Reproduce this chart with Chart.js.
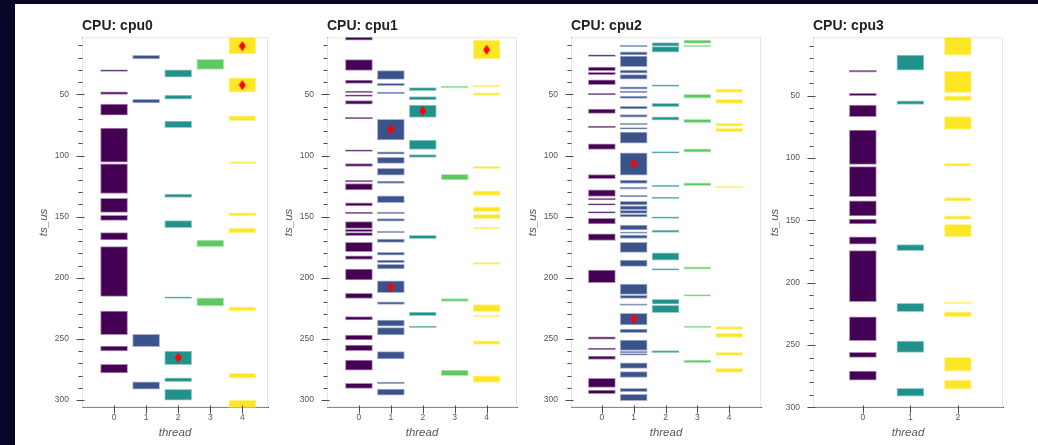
<!DOCTYPE html>
<html>
<head>
<meta charset="utf-8">
<script src="https://cdn.jsdelivr.net/npm/chart.js@4.4.1/dist/chart.umd.min.js"></script>
<style>
  html, body { margin: 0; padding: 0; background: #07072a; }
  #wrap { position: relative; width: 1038px; height: 445px; overflow: hidden; }
  #panel { position: absolute; left: 15px; top: 4px; width: 1023px; height: 441px; background: #fff; }
  canvas { position: absolute; left: 0; top: 0; }
</style>
</head>
<body>
<div id="wrap">
  <div id="panel"></div>
  <canvas id="c0" width="1038" height="445"></canvas>
  <canvas id="c1" width="1038" height="445"></canvas>
  <canvas id="c2" width="1038" height="445"></canvas>
  <canvas id="c3" width="1038" height="445"></canvas>
</div>
<script>
// titles and ticks
const cpuTitles = ['CPU: cpu0', 'CPU: cpu1', 'CPU: cpu2', 'CPU: cpu3'];
const yTickValues = [50, 100, 150, 200, 250, 300];
const cpu0Threads = [0, 1, 2, 3, 4];
const cpu1Threads = [0, 1, 2, 3, 4];
const cpu2Threads = [0, 1, 2, 3, 4];
const cpu3Threads = [0, 1, 2];

// busy spans per thread, [start, end] in ts_us
const cpu0Spans = [
  [[30, 31.2], [48, 50], [58, 67], [77.5, 105.5], [106.8, 131], [135, 146.5], [149, 153], [163, 169], [174.5, 215.2], [227.2, 246.6], [255.8, 259.8], [270.8, 277.8]],
  [[18, 21], [54, 57], [246.3, 256.3], [285, 291]],
  [[30, 36], [50.5, 54], [71.8, 77.3], [131.5, 134.3], [153.3, 159], [215.6, 216.8], [260, 271], [281.8, 285], [291.3, 300]],
  [[21.4, 29.6], [169.2, 174.6], [216.4, 223]],
  [[0, 17], [36.4, 48.1], [67.6, 71.6], [104.9, 106.6], [146.9, 149.4], [159.3, 163.3], [223.7, 227], [278.1, 282], [300, 310]]
];
const cpu1Spans = [
  [[2, 5.6], [21.5, 30.4], [38.3, 41], [47.2, 48.5], [50.4, 51.7], [55, 58], [68.8, 70.1], [95.3, 96.6], [106.5, 109], [120.3, 121.6], [122.9, 128.2], [138.6, 141.3], [146.3, 147.6], [154.1, 159.6], [160.4, 162.3], [163.1, 165.6], [171, 178.7], [182, 184.9], [192.8, 201.8], [212.7, 216.8], [231.8, 234.5], [246.8, 250.9], [255, 259.7], [267.3, 275.5], [286.3, 290.4]],
  [[30.6, 37.7], [41, 42.9], [48.1, 49.4], [70.4, 87.3], [96.9, 99], [101.5, 106.4], [110.5, 116], [120.9, 122.8], [132.9, 138.6], [146.3, 147.6], [151.6, 153.6], [161.9, 163.2], [168.3, 171], [179.2, 181.4], [185.5, 187.7], [189, 192.8], [202.4, 212.2], [219.6, 221.7], [234.5, 239.5], [240.8, 246.8], [260.4, 266.4], [285.3, 286.6], [291, 295.9]],
  [[44.5, 47], [51.9, 54.6], [58.7, 68.8], [87.3, 95], [99.3, 101.5], [165.3, 168], [228, 231], [239.4, 240.7]],
  [[43.3, 44.5], [115.4, 120], [217, 219.4], [275.4, 280]],
  [[5.6, 21.1], [42.4, 43.7], [48.7, 50.8], [108.8, 110.8], [128.8, 132.6], [141.9, 146], [148.1, 151.7], [158.7, 160], [187.4, 189], [222, 227.8], [230.8, 232.1], [251.5, 254.5], [280.1, 285.5]]
];
const cpu2Spans = [
  [[17.6, 18.9], [27.7, 30.6], [32, 33.8], [38, 42], [49.2, 50.5], [62, 65.5], [75.9, 77.2], [90.5, 95], [115.5, 119], [128, 133.5], [134.8, 136.4], [139.3, 140.6], [145.8, 147.1], [151.4, 156], [164, 169.5], [193.7, 204], [248.2, 250.3], [257.5, 258.8], [264, 266.8], [282.2, 289.6], [291.8, 294.8]],
  [[9.8, 11.1], [15.1, 17.8], [18.6, 27.4], [30.1, 32.6], [33.8, 37.5], [43.9, 45.8], [47.2, 48.7], [51.3, 53.4], [59.8, 61.9], [66.6, 68.6], [73.6, 74.9], [77.1, 78.4], [80.8, 90], [97.9, 116], [120, 122.8], [125.8, 127.6], [132.6, 133.9], [137.4, 140.5], [141.2, 144.2], [144.8, 147.3], [148, 150.2], [156.9, 160.9], [162.5, 163.8], [165, 167.9], [171, 179.2], [185.5, 190.6], [205.1, 213.6], [214.4, 216.8], [221.2, 222.5], [229.1, 238.6], [241.9, 244.9], [250.9, 259.5], [260, 261.5], [262, 263.3], [269.5, 274.1], [276.8, 281.4], [290.4, 293.2], [295.3, 300.5]],
  [[7.7, 10.5], [11, 15.4], [42.2, 43.5], [57.4, 60.1], [68.3, 71], [96.8, 98.1], [124.1, 125.6], [133.9, 135.2], [150.1, 151.4], [160.9, 162.8], [179.5, 185.5], [192.4, 193.8], [217.6, 221.5], [222.5, 228.6], [259.6, 261.3]],
  [[5.6, 8.3], [9.8, 11], [50, 53.2], [70.4, 73.2], [94.5, 97.2], [122.3, 124.7], [191, 192.9], [213.7, 215], [239.4, 240.7], [267.3, 269.5]],
  [[45.6, 48.3], [54.1, 57.4], [73.7, 75.9], [77.8, 80.8], [125.3, 126.6], [240, 242.2], [245.4, 248.7], [261, 263.4], [274, 277.3]]
];
const cpu3Spans = [
  [[29.6, 31], [48.1, 50], [57.5, 66.8], [77.5, 105.1], [106.9, 131], [134.2, 146.5], [148.9, 152.9], [163.1, 169], [174.3, 215.2], [227.3, 246.5], [255.9, 259.9], [270.9, 278.1]],
  [[17.4, 29.4], [54, 57], [169.3, 174.3], [216.6, 223.3], [246.8, 255.9], [284.8, 290.9]],
  [[0, 17.4], [30.2, 47.6], [50, 54], [66.8, 77], [104.3, 106.4], [131.6, 134.5], [146.3, 149.2], [153.2, 163.1], [215.5, 216.8], [223.3, 227.3], [259.9, 270.9], [278.1, 285.3]]
];

// red markers [thread, ts_us]
const cpu0Marks = [[4, 10.5], [4, 42.4], [2, 265.3]];
const cpu1Marks = [[4, 13.5], [2, 63.6], [1, 78.6], [1, 207.8]];
const cpu2Marks = [[1, 106.6], [1, 233.7]];
const cpu3Marks = [];

// layout / style
const palette5 = ['#440154', '#3b528b', '#21918c', '#5ec962', '#fde725'];
const palette3 = ['#440154', '#21918c', '#fde725'];
const frames = [[82, 268], [327, 517], [571, 761], [813, 1003]];
const xRanges = [[-1, 4.8], [-1, 4.95], [-0.97, 5.0], [-1.05, 2.95]];
const yRanges = [[3.4, 306], [3.4, 306], [3.4, 306], [3.2, 300]];
const frameTop = 37.4, frameBottom = 407.4;
const yAxisW = 45.6, xAxisH = 32;

function fade(hex, a) {
  const n = parseInt(hex.slice(1), 16);
  return `rgba(${n >> 16},${(n >> 8) & 255},${n & 255},${a})`;
}

// diamond marker
const diamond = document.createElement('canvas');
diamond.width = 8; diamond.height = 11;
(function () {
  const g = diamond.getContext('2d');
  g.fillStyle = '#f00';
  g.beginPath();
  g.moveTo(4, 0.5); g.lineTo(7.5, 5.5); g.lineTo(4, 10.5); g.lineTo(0.5, 5.5);
  g.closePath(); g.fill();
})();

const axisDeco = {
  id: 'axisDeco',
  beforeDatasetsDraw(chart) {
    const { ctx, chartArea: a } = chart;
    ctx.save();
    ctx.strokeStyle = '#e6e6e6';
    ctx.lineWidth = 1;
    ctx.strokeRect(a.left + 0.5, a.top + 0.5, a.right - a.left - 1, a.bottom - a.top - 1);
    ctx.restore();
  },
  afterDraw(chart) {
    const { ctx, chartArea: a, scales } = chart;
    const ys = scales.y, xs = scales.x;
    ctx.save();
    ctx.strokeStyle = '#4d4d4d';
    ctx.lineWidth = 1;
    ctx.beginPath();
    const ax = Math.round(a.left) + 0.5;
    for (let v = Math.ceil(ys.min / 10) * 10; v <= ys.max; v += 10) {
      const py = Math.round(ys.getPixelForValue(v)) + 0.5;
      if (v % 50 === 0) { ctx.moveTo(ax - 6, py); ctx.lineTo(ax + 2, py); }
      else { ctx.moveTo(ax - 4, py); ctx.lineTo(ax, py); }
    }
    const by = Math.round(a.bottom) + 0.5;
    xs.ticks.forEach(t => {
      const px = Math.round(xs.getPixelForValue(t.value)) + 0.5;
      ctx.moveTo(px, by - 2); ctx.lineTo(px, by + 6);
    });
    ctx.stroke();
    ctx.fillStyle = '#222';
    ctx.font = 'bold 14px "Liberation Sans", Arial, sans-serif';
    ctx.textBaseline = 'alphabetic';
    ctx.fillText(chart.options.plugins.cpuTitle, a.left, 30);
    ctx.restore();
  }
};

function makeChart(i, spans, threads, marks, palette) {
  const datasets = [{
    type: 'scatter',
    data: marks.map(m => ({ x: m[0], y: m[1] })),
    pointStyle: diamond,
    pointRadius: 5,
    showLine: false
  }];
  spans.forEach((list, t) => {
    datasets.push({
      type: 'bar',
      data: list.map(s => ({ x: threads[t], y: s })),
      backgroundColor: palette[t],
      borderColor: fade(palette[t], 0.45),
      borderWidth: 1,
      borderSkipped: false,
      barThickness: 27,
      grouped: false
    });
  });
  const tickFont = { family: '"Liberation Sans", Arial, sans-serif', size: 8.5 };
  const titleFont = { family: '"Liberation Sans", Arial, sans-serif', size: 11.5, style: 'italic' };
  new Chart(document.getElementById('c' + i), {
    type: 'bar',
    data: { datasets },
    options: {
      responsive: false,
      animation: false,
      events: [],
      layout: {
        padding: {
          left: frames[i][0] - yAxisW,
          right: 1038 - frames[i][1],
          top: frameTop,
          bottom: 445 - frameBottom - xAxisH
        }
      },
      plugins: { legend: { display: false }, tooltip: { enabled: false }, cpuTitle: cpuTitles[i] },
      scales: {
        x: {
          type: 'linear',
          offset: false,
          min: xRanges[i][0],
          max: xRanges[i][1],
          grid: { display: false, drawTicks: false },
          border: { display: true, color: '#4d4d4d', width: 1 },
          afterBuildTicks: s => { s.ticks = threads.map(v => ({ value: v })); },
          afterFit: s => { s.height = xAxisH; },
          ticks: { font: tickFont, color: '#555', padding: 5.5, maxRotation: 0, autoSkip: false },
          title: { display: true, text: 'thread', font: titleFont, color: '#555', padding: { top: 0, bottom: 0 } }
        },
        y: {
          type: 'linear',
          reverse: true,
          min: yRanges[i][0],
          max: yRanges[i][1],
          grid: { display: false, drawTicks: false },
          border: { display: true, color: '#4d4d4d', width: 1 },
          afterBuildTicks: s => { s.ticks = yTickValues.map(v => ({ value: v })); },
          afterFit: s => { s.width = yAxisW; },
          ticks: { font: tickFont, color: '#555', padding: 13, autoSkip: false },
          title: { display: true, text: 'ts_us', font: titleFont, color: '#555', padding: { top: 0, bottom: 0 } }
        }
      }
    },
    plugins: [axisDeco]
  });
}

makeChart(0, cpu0Spans, cpu0Threads, cpu0Marks, palette5);
makeChart(1, cpu1Spans, cpu1Threads, cpu1Marks, palette5);
makeChart(2, cpu2Spans, cpu2Threads, cpu2Marks, palette5);
makeChart(3, cpu3Spans, cpu3Threads, cpu3Marks, palette3);
</script>
</body>
</html>
